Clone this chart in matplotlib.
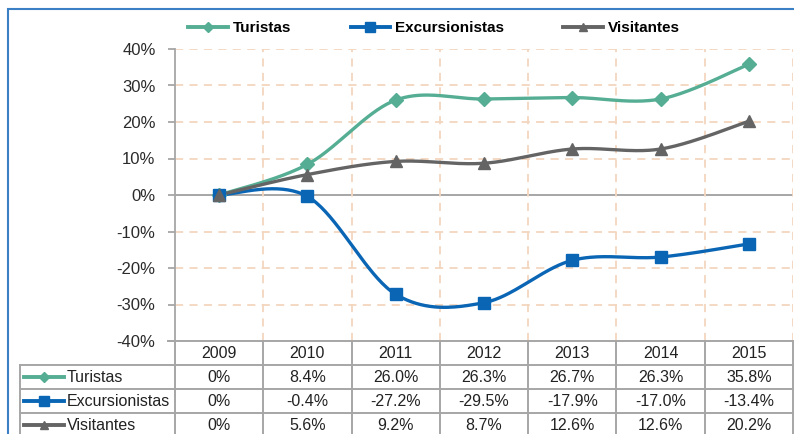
import matplotlib
matplotlib.use("Agg")
import matplotlib.pyplot as plt
import numpy as np
from matplotlib.lines import Line2D
from matplotlib.patches import Rectangle

plt.rcParams["font.family"] = ["Liberation Sans", "DejaVu Sans"]

years = ["2009", "2010", "2011", "2012", "2013", "2014", "2015"]
turistas = [0.0, 8.4, 26.0, 26.3, 26.7, 26.3, 35.8]
excursionistas = [0.0, -0.4, -27.2, -29.5, -17.9, -17.0, -13.4]
visitantes = [0.0, 5.6, 9.2, 8.7, 12.6, 12.6, 20.2]

turistas_lbl = ["0%", "8.4%", "26.0%", "26.3%", "26.7%", "26.3%", "35.8%"]
excursionistas_lbl = ["0%", "-0.4%", "-27.2%", "-29.5%", "-17.9%", "-17.0%", "-13.4%"]
visitantes_lbl = ["0%", "5.6%", "9.2%", "8.7%", "12.6%", "12.6%", "20.2%"]

yticks = [-40, -30, -20, -10, 0, 10, 20, 30, 40]

C_TUR = "#55AE93"
C_EXC = "#0A66B5"
C_VIS = "#646464"
GRID = "#F3D6BE"
AXIS = "#A6A6A6"

series = [
    ("Turistas", turistas, turistas_lbl, C_TUR, "D", 7.0, 5.0),
    ("Excursionistas", excursionistas, excursionistas_lbl, C_EXC, "s", 8.5, 6.5),
    ("Visitantes", visitantes, visitantes_lbl, C_VIS, "^", 8.0, 6.0),
]


def smooth(xs, ys, n=40):
    # Excel-like smoothed line: Catmull-Rom segments as cubic Beziers
    xs = np.asarray(xs, float)
    ys = np.asarray(ys, float)
    P = np.column_stack([xs, ys])
    out = []
    for i in range(len(P) - 1):
        p0 = P[i - 1] if i > 0 else P[i]
        p1 = P[i]
        p2 = P[i + 1]
        p3 = P[i + 2] if i + 2 < len(P) else P[i + 1]
        c1 = p1 + (p2 - p0) / 6.0
        c2 = p2 - (p3 - p1) / 6.0
        t = np.linspace(0, 1, n)[:, None]
        seg = ((1 - t) ** 3) * p1 + 3 * ((1 - t) ** 2) * t * c1 + 3 * (1 - t) * t ** 2 * c2 + t ** 3 * p2
        out.append(seg if i == 0 else seg[1:])
    out = np.vstack(out)
    return out[:, 0], out[:, 1]


W, H = 794, 434
fig = plt.figure(figsize=(W / 100, H / 100), dpi=100)

# layout in pixels
PX_L, PX_R = 175, 793
PX_TOP, PX_BOT = 49, 341
ROW_H = 24
TBL_L = 20
ncat = len(years)
px_per_cat = (PX_R - PX_L) / ncat

ax = fig.add_axes([PX_L / W, 1 - PX_BOT / H, (PX_R - PX_L) / W, (PX_BOT - PX_TOP) / H])
ax.set_xlim(0, ncat)
ax.set_ylim(-40, 40)
for s in ["top", "right", "bottom"]:
    ax.spines[s].set_visible(False)
ax.spines["left"].set_color(AXIS)
ax.spines["left"].set_linewidth(1.3)
ax.set_xticks([])
ax.set_yticks(yticks)
ax.set_yticklabels([f"{v}%" for v in yticks], fontsize=12, color="#2b2b2b")
ax.tick_params(axis="y", direction="out", length=5, width=1.3, color=AXIS, pad=9)

for v in yticks:
    if v == 0:
        ax.axhline(v, color=AXIS, lw=1.4, zorder=1)
    elif v != -40:
        ax.axhline(v, color=GRID, lw=1.3, dashes=(4.5, 3.5), zorder=1)
for k in range(1, ncat + 1):
    ax.axvline(k, color=GRID, lw=1.3, dashes=(4.5, 3.5), zorder=1)

xpos = np.arange(ncat) + 0.5
for name, vals, _, col, mk, ms, _lms in series:
    sx, sy = smooth(xpos, vals)
    ax.plot(sx, sy, color=col, lw=2.4, zorder=3, solid_capstyle="round")
    ax.plot(xpos, vals, linestyle="none", marker=mk, ms=ms, color=col, zorder=4)

# top legend
handles = [Line2D([0], [0], color=col, lw=2.8, marker=mk, ms=lms)
           for _, _, _, col, mk, _, lms in series]
fig.legend(handles, [s[0] for s in series], loc="center", ncol=3,
           bbox_to_anchor=(434 / W, 1 - 28 / H), frameon=False,
           prop={"weight": "bold", "size": 11}, handlelength=2.6,
           handletextpad=0.3, columnspacing=3.9, borderpad=0)

# data table
tax = fig.add_axes([0, 0, 1, (H - PX_BOT) / H])
tax.set_xlim(-PX_L / px_per_cat, W / px_per_cat - PX_L / px_per_cat)
tax.set_ylim((H - PX_BOT) / ROW_H, 0)
tax.axis("off")


def px2x(px):
    return (px - PX_L) / px_per_cat


xl = px2x(TBL_L)
nrows = len(series) + 1
ybottom = (H - PX_BOT) / ROW_H + 0.5
tax.plot([px2x(PX_L - 7), ncat], [0, 0], color=AXIS, lw=1.4, clip_on=False)
for r in range(1, nrows):
    tax.plot([xl, ncat], [r, r], color=AXIS, lw=1.4, clip_on=False)
for k in range(0, ncat + 1):
    tax.plot([k, k], [0, ybottom], color=AXIS, lw=1.4, clip_on=False)
tax.plot([xl, xl], [1, ybottom], color=AXIS, lw=1.4, clip_on=False)

for j, yr in enumerate(years):
    tax.text(j + 0.5, 0.5, yr, ha="center", va="center", fontsize=11.5, color="#222222")
for i, (name, vals, lbls, col, mk, _, lms) in enumerate(series):
    r = i + 1.5
    tax.plot([px2x(24), px2x(64)], [r, r], color=col, lw=2.8, clip_on=False)
    tax.plot([px2x(44)], [r], marker=mk, ms=lms, color=col, clip_on=False)
    tax.text(px2x(67), r, name, ha="left", va="center", fontsize=11.5, color="#222222")
    for j, lb in enumerate(lbls):
        tax.text(j + 0.5, r, lb, ha="center", va="center", fontsize=11.5, color="#222222")

# outer chart border (top and left visible)
fig.patches.append(Rectangle((8 / W, -0.1), 1.1, 1 - 9 / H + 0.1, transform=fig.transFigure,
                             fill=False, edgecolor="#3B7FC4", lw=1.5))

fig.savefig("out.png", dpi=100)
